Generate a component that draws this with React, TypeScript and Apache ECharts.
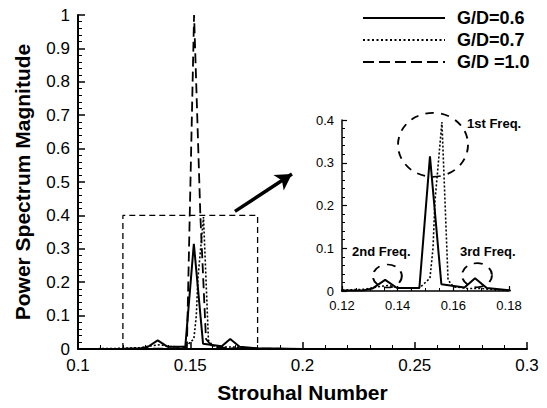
import React, { useEffect, useRef } from "react";
import * as echarts from "echarts";

// ---- data ----
const seriesNames = ["G/D=0.6", "G/D=0.7", "G/D =1.0"];

const stGD06 = [0.1, 0.12, 0.128, 0.131, 0.1355, 0.1398, 0.1478, 0.1516, 0.1557, 0.164, 0.1678, 0.172, 0.18, 0.2, 0.3];
const pwGD06 = [0, 0.001, 0.002, 0.006, 0.026, 0.007, 0.007, 0.315, 0.016, 0.008, 0.03, 0.007, 0.002, 0, 0];

const stGD07 = [0.1, 0.12, 0.128, 0.133, 0.1365, 0.14, 0.145, 0.148, 0.1516, 0.1527, 0.1534, 0.1559, 0.1581, 0.16, 0.165, 0.17, 0.175, 0.18, 0.2, 0.3];
const pwGD07 = [0, 0.002, 0.004, 0.01, 0.013, 0.008, 0.006, 0.008, 0.03, 0.1, 0.21, 0.395, 0.026, 0.01, 0.006, 0.006, 0.003, 0.001, 0, 0];

const stGD10 = [0.1, 0.14, 0.1485, 0.1517, 0.1545, 0.157, 0.16, 0.17, 0.2, 0.3];
const pwGD10 = [0, 0.001, 0.004, 1.0, 0.4, 0.03, 0.006, 0.002, 0, 0];

const zoomBoxSt = [0.12, 0.12, 0.18, 0.18];
const zoomBoxPw = [0, 0.4, 0.4, 0];

const arrowFrom = [0.1699, 0.412];
const arrowTo = [0.1953, 0.524];

const circleSt = [0.1527, 0.1363, 0.1685];
const circlePw = [0.342, 0.035, 0.037];
const circleW = [70, 29, 30];
const circleH = [64, 23, 24];
const freqLabels = ["1st Freq.", "2nd Freq.", "3rd Freq."];

const mainXTicks = { min: 0.1, max: 0.3, interval: 0.05 };
const mainYTicks = { min: 0, max: 1, interval: 0.1 };
const insetXTicks = { min: 0.12, max: 0.18, interval: 0.02 };
const insetYTicks = { min: 0, max: 0.4, interval: 0.1 };

const FONT = "Liberation Sans, Arial, Helvetica, sans-serif";

const pair = (xs: number[], ys: number[]) => xs.map((x, i) => [x, ys[i]]);
const fmt = (v: number) => String(+(+v).toFixed(3));

const lineStyles: any[] = [
  { color: "#000", width: 2, type: "solid" },
  { color: "#000", width: 1.6, type: [2, 2] },
  { color: "#000", width: 1.8, type: [10, 5] },
];
const legendDash: any[] = [null, [2, 2.5], [11, 5]];

export default function App() {
  const ref = useRef<HTMLDivElement>(null);
  useEffect(() => {
    if (!ref.current) return;
    const chart = echarts.init(ref.current, undefined, { renderer: "svg" });

    const axisCommon = (big: boolean) => ({
      axisLine: { show: true, onZero: false, lineStyle: { color: "#000", width: big ? 2 : 1.5 } },
      axisTick: { show: true, inside: true, length: big ? 7 : 5, lineStyle: { color: "#000", width: big ? 1.5 : 1.2 } },
      minorTick: { show: true, splitNumber: 5, length: big ? 4 : 3, lineStyle: { color: "#000", width: 1 } },
      splitLine: { show: false },
      axisLabel: {
        color: "#000",
        fontFamily: FONT,
        fontSize: big ? 17 : 13,
        formatter: (v: number) => fmt(v),
      },
    });

    const mainData = [pair(stGD06, pwGD06), pair(stGD07, pwGD07), pair(stGD10, pwGD10)];

    const series: any[] = [];
    mainData.forEach((d, i) => {
      series.push({
        name: seriesNames[i],
        type: "line",
        xAxisIndex: 0,
        yAxisIndex: 0,
        data: d,
        symbol: "none",
        itemStyle: { color: "#000" },
        lineStyle: lineStyles[i],
        z: 3 - i,
      });
    });
    // inset (G/D = 0.6 and 0.7 only)
    [0, 1].forEach((i) => {
      series.push({
        name: seriesNames[i] + " (inset)",
        type: "line",
        xAxisIndex: 1,
        yAxisIndex: 1,
        data: mainData[i],
        symbol: "none",
        clip: true,
        itemStyle: { color: "#000" },
        lineStyle: lineStyles[i],
      });
    });
    // zoom box + arrow
    series.push({
      name: "box",
      type: "line",
      xAxisIndex: 0,
      yAxisIndex: 0,
      data: pair(zoomBoxSt, zoomBoxPw),
      symbol: "none",
      itemStyle: { color: "#000" },
      lineStyle: { color: "#000", width: 1.3, type: [6, 4] },
      markLine: {
        silent: true,
        symbol: ["none", "arrow"],
        symbolSize: [14, 16],
        label: { show: false },
        lineStyle: { color: "#000", width: 3.5, type: "solid" },
        data: [[{ coord: arrowFrom }, { coord: arrowTo }]],
      },
    });
    // dashed circles in the inset
    series.push({
      name: "circles",
      type: "scatter",
      xAxisIndex: 1,
      yAxisIndex: 1,
      data: circleSt.map((x, i) => ({
        value: [x, circlePw[i]],
        symbolSize: [circleW[i], circleH[i]],
      })),
      symbol: "circle",
      itemStyle: { color: "rgba(0,0,0,0)", borderColor: "#000", borderWidth: 1.8, borderType: [8, 7], opacity: 1 },
      clip: false,
    });

    const labelPos = [
      [467, 117],
      [352, 245],
      [460, 245],
    ];

    const legendGraphics: any[] = [];
    seriesNames.forEach((n, i) => {
      const y = 18 + i * 22;
      legendGraphics.push({
        type: "line",
        shape: { x1: 363, y1: y, x2: 445, y2: y },
        style: { stroke: "#000", lineWidth: i === 0 ? 2 : 1.8, lineDash: legendDash[i] },
      });
      legendGraphics.push({
        type: "text",
        x: 457,
        y: y,
        style: {
          text: n,
          font: `bold 18px ${FONT}`,
          fill: "#000",
          verticalAlign: "middle",
          align: "left",
        },
      });
    });

    chart.setOption({
      animation: false,
      backgroundColor: "#fff",
      textStyle: { fontFamily: FONT },
      grid: [
        { left: 78, top: 15, right: 20, bottom: 46, containLabel: false },
        { left: 342, top: 120, width: 167, height: 171, containLabel: false },
      ],
      xAxis: [
        {
          type: "value",
          gridIndex: 0,
          ...mainXTicks,
          ...axisCommon(true),
          name: "Strouhal Number",
          nameLocation: "middle",
          nameGap: 33,
          nameTextStyle: { fontFamily: FONT, fontSize: 21, fontWeight: "bold", color: "#000" },
        },
        {
          type: "value",
          gridIndex: 1,
          ...insetXTicks,
          ...axisCommon(false),
          minorTick: { show: true, splitNumber: 4, length: 3, lineStyle: { color: "#000", width: 1 } },
        },
      ],
      yAxis: [
        {
          type: "value",
          gridIndex: 0,
          ...mainYTicks,
          ...axisCommon(true),
          name: "Power Spectrum Magnitude",
          nameLocation: "middle",
          nameGap: 45,
          nameTextStyle: { fontFamily: FONT, fontSize: 21, fontWeight: "bold", color: "#000" },
        },
        {
          type: "value",
          gridIndex: 1,
          ...insetYTicks,
          ...axisCommon(false),
        },
      ],
      graphic: [
        ...freqLabels.map((t, i) => ({
          type: "text",
          left: labelPos[i][0],
          top: labelPos[i][1],
          style: { text: t, font: `bold 13px ${FONT}`, fill: "#000" },
        })),
        ...legendGraphics,
      ],
      series,
    });
    return () => chart.dispose();
  }, []);
  return (
    <div
      ref={ref}
      style={{ position: "absolute", left: 0, top: 0, width: 547, height: 408 }}
    />
  );
}
